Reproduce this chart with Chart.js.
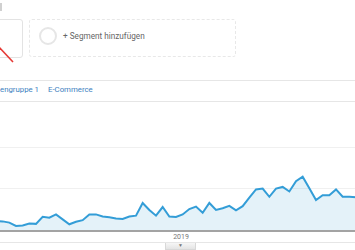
<!DOCTYPE html>
<html><head><meta charset="utf-8">
<script src="https://cdn.jsdelivr.net/npm/chart.js@4/dist/chart.umd.min.js"></script>
<style>
html,body{margin:0;padding:0;background:#fff;width:355px;height:250px;overflow:hidden;font-family:Roboto,"Noto Sans",sans-serif;}
.abs{position:absolute;}
#wrap{position:relative;width:355px;height:250px;overflow:hidden;}
</style></head>
<body><div id="wrap">
<div class="abs" style="left:0;top:3px;width:2px;height:8px;background:#d0d0d0"></div>
<div class="abs" style="left:-10px;top:19px;width:31px;height:37px;border:1px solid #e3e3e3;border-radius:3px"></div>
<svg class="abs" style="left:0;top:0" width="30" height="70"><line x1="-1" y1="47" x2="13" y2="62" stroke="#e53935" stroke-width="1.6"/></svg>
<div class="abs" style="left:29px;top:19px;width:205px;height:36px;border:1px dashed #e8e8e8;border-radius:3px"></div>
<div class="abs" style="left:39px;top:27px;width:14px;height:14px;border:2.5px solid #e6e6e6;border-radius:50%"></div>
<div class="abs" id="seg" style="left:63px;top:30px;font-size:8.2px;color:#666;line-height:12px;white-space:nowrap">+ Segment hinzufügen</div>
<div class="abs" style="left:0;top:80px;width:355px;height:1px;background:#e6e6e6"></div>
<div class="abs" id="tab1" style="left:0;top:84px;font-size:7.8px;color:#3d7fc0;line-height:12px;white-space:nowrap">engruppe 1</div>
<div class="abs" id="tab2" style="left:48px;top:84px;font-size:7.8px;color:#3d7fc0;line-height:12px;white-space:nowrap">E-Commerce</div>
<div class="abs" style="left:0;top:101px;width:355px;height:1px;background:#e6e6e6"></div>
<canvas id="c" class="abs" width="360" height="129" style="left:-4px;top:101px;width:360px;height:129px"></canvas>
<div class="abs" style="left:0;top:230px;width:355px;height:2px;background:#a3a3a3"></div>
<div class="abs" id="yr" style="left:171px;top:233px;width:20px;text-align:center;font-size:7px;color:#777;line-height:9px">2019</div>
<div class="abs" style="left:0;top:242px;width:355px;height:1px;background:#e6e6e6"></div>
<div class="abs" style="left:165px;top:243px;width:29px;height:6px;background:linear-gradient(#f6f6f6,#e4e4e4);border:1px solid #d8d8d8;border-top:none;font-size:5px;color:#777;text-align:center;line-height:5px">▼</div>
</div>
<script>
const weeks = ['W00','W01','W02','W03','W04','W05','W06','W07','W08','W09','W10','W11','W12','W13','W14','W15','W16','W17','W18','W19','W20','W21','W22','W23','W24','W25','W26','W27','W28','W29','W30','W31','W32','W33','W34','W35','W36','W37','W38','W39','W40','W41','W42','W43','W44','W45','W46','W47','W48','W49','W50','W51','W52','W53','W54'];
const sessions = [22,21,18,10,11,16,15,32,30,38,26,14,20,24,38,38,33,31,28,27,33,35,66,49,35,56,33,32,38,51,57,42,66,49,53,59,48,58,79,99,101,81,101,105,94,119,130,102,73,85,85,99,81,81,80];
const gridValues = [0,100,200];
const yMax = 314.6;

new Chart(document.getElementById('c'), {
  type: 'line',
  data: { labels: weeks, datasets: [{
    data: sessions, borderColor: '#339dd7', borderWidth: 2,
    backgroundColor: 'rgba(5,141,199,0.11)', fill: 'origin',
    pointRadius: 0, tension: 0, borderJoinStyle: 'miter'
  }]},
  options: {
    responsive: false, devicePixelRatio: 1, animation: false,
    layout: { padding: 0 },
    plugins: { legend: { display: false }, tooltip: { enabled: false } },
    scales: {
      x: { display: false, offset: false },
      y: { min: 0, max: yMax, display: true,
        afterBuildTicks: s => { s.ticks = gridValues.map(v => ({ value: v })); },
        afterFit: s => { s.width = 0; },
        ticks: { display: false },
        border: { display: false },
        grid: { drawTicks: false, color: '#f0f0f0', lineWidth: 1 } }
    }
  }
});
</script>
</body></html>
